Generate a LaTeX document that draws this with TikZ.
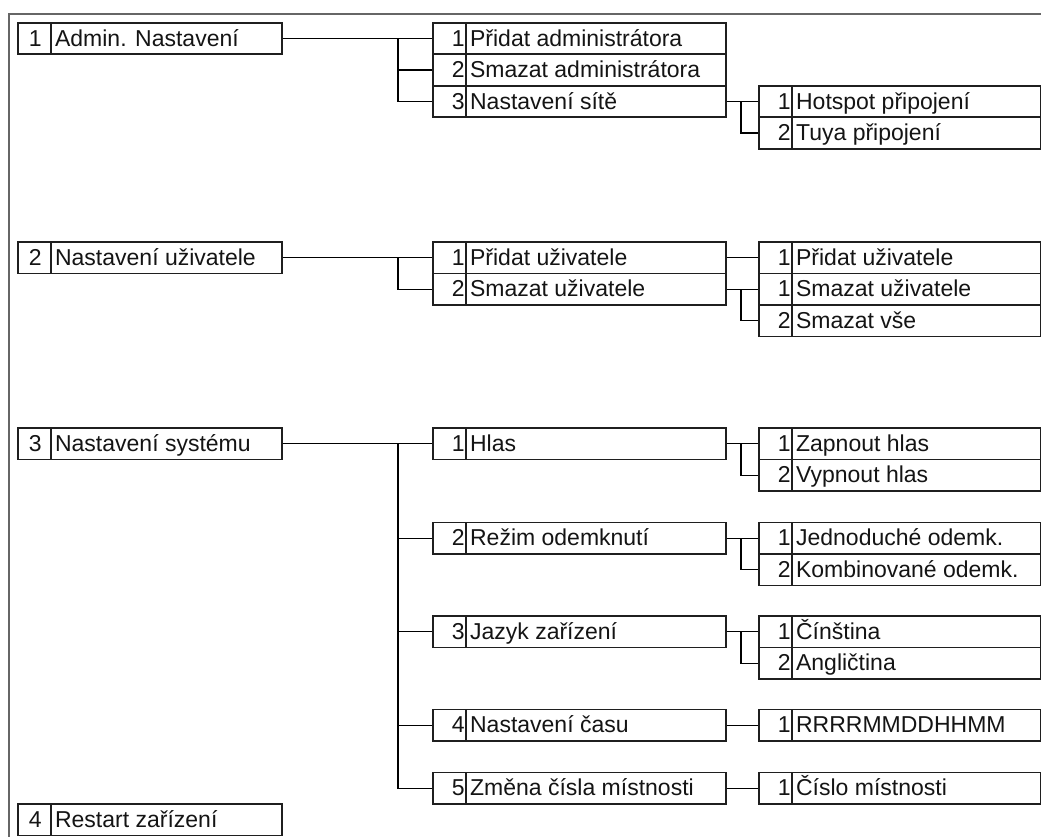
\documentclass[tikz,border=0pt]{standalone}
\usepackage{fontspec}
\setmainfont{Liberation Sans}
\usetikzlibrary{calc}
\tikzset{
  cell/.style={draw=black!88, line width=1.9pt, inner sep=0pt, minimum height=31.5pt, rectangle},
  lbl/.style={font=\fontsize{23}{27}\selectfont, text=black!92, inner sep=0pt},
  conn/.style={draw=black, line width=1.4pt},
  frameline/.style={draw=black!60, line width=1.7pt}
}
% #1 name, #2 left, #3 top, #4 divider, #5 right, #6 number, #7 text, #8 number right padding
\newcommand{\mitem}[8]{%
  \node[cell, minimum width={(#5-#2)*1pt}, anchor=north west] (#1) at (#2,#3) {};
  \node[cell, minimum width={(#4-#2)*1pt}, anchor=north west] (#1n) at (#2,#3) {};
  \node[lbl, anchor=base east, xshift=-#8] (#1num) at ([yshift=-7.5pt]#1n.east) {#6};
  \node[lbl, anchor=base west, xshift=3pt] (#1t) at ([yshift=-7.5pt]#1n.east) {#7};
}
\newcommand{\lone}[4]{\mitem{#1}{17}{#2}{50}{281}{#3}{#4}{10pt}}
\newcommand{\ltwo}[4]{\mitem{#1}{432}{#2}{465}{725}{#3}{#4}{2pt}}
\newcommand{\lthree}[4]{\mitem{#1}{758}{#2}{791}{1040}{#3}{#4}{2pt}}
\begin{document}
\begin{tikzpicture}[x=1pt, y=-1pt]
\useasboundingbox (0,0) rectangle (1041,837);
\draw[frameline] (1041,14) -- (9,14) -- (9,837);
\coordinate (f1) at (398,0);
\coordinate (f2) at (741,0);

% level 1
\lone{A1}{22}{1}{Admin. Nastavení}
\lone{A2}{241}{2}{Nastavení uživatele}
\lone{A3}{427}{3}{Nastavení systému}
\lone{A4}{803}{4}{Restart zařízení}

% level 2
\ltwo{B11}{22}{1}{Přidat administrátora}
\ltwo{B12}{53.5}{2}{Smazat administrátora}
\ltwo{B13}{85}{3}{Nastavení sítě}
\ltwo{B21}{241}{1}{Přidat uživatele}
\ltwo{B22}{272.5}{2}{Smazat uživatele}
\ltwo{B31}{427}{1}{Hlas}
\ltwo{B32}{521.5}{2}{Režim odemknutí}
\ltwo{B33}{615}{3}{Jazyk zařízení}
\ltwo{B34}{708.5}{4}{Nastavení času}
\ltwo{B35}{771.5}{5}{Změna čísla místnosti}

% level 3
\lthree{C131}{85}{1}{Hotspot připojení}
\lthree{C132}{116.5}{2}{Tuya připojení}
\lthree{C211}{241}{1}{Přidat uživatele}
\lthree{C221}{272.5}{1}{Smazat uživatele}
\lthree{C222}{304}{2}{Smazat vše}
\lthree{C311}{427}{1}{Zapnout hlas}
\lthree{C312}{458.5}{2}{Vypnout hlas}
\lthree{C321}{521.5}{1}{Jednoduché odemk.}
\lthree{C322}{553}{2}{Kombinované odemk.}
\lthree{C331}{615}{1}{Čínština}
\lthree{C332}{646.5}{2}{Angličtina}
\lthree{C341}{708.5}{1}{RRRRMMDDHHMM}
\lthree{C351}{771.5}{1}{Číslo místnosti}

% connectors section 1
\draw[conn] (A1.east) -- (B11.west);
\draw[conn] (B11.west -| f1) |- (B13.west);
\draw[conn] (B12.west -| f1) -- (B12.west);
\draw[conn] (B13.east) -- (C131.west);
\draw[conn] (C131.west -| f2) |- (C132.west);

% section 2
\draw[conn] (A2.east) -- (B21.west);
\draw[conn] (B21.west -| f1) |- (B22.west);
\draw[conn] (B21.east) -- (C211.west);
\draw[conn] (B22.east) -- (C221.west);
\draw[conn] (C221.west -| f2) |- (C222.west);

% section 3
\draw[conn] (A3.east) -- (B31.west);
\draw[conn] (B31.west -| f1) |- (B35.west);
\draw[conn] (B32.west -| f1) -- (B32.west);
\draw[conn] (B33.west -| f1) -- (B33.west);
\draw[conn] (B34.west -| f1) -- (B34.west);
\draw[conn] (B31.east) -- (C311.west);
\draw[conn] (C311.west -| f2) |- (C312.west);
\draw[conn] (B32.east) -- (C321.west);
\draw[conn] (C321.west -| f2) |- (C322.west);
\draw[conn] (B33.east) -- (C331.west);
\draw[conn] (C331.west -| f2) |- (C332.west);
\draw[conn] (B34.east) -- (C341.west);
\draw[conn] (B35.east) -- (C351.west);
\end{tikzpicture}
\end{document}
